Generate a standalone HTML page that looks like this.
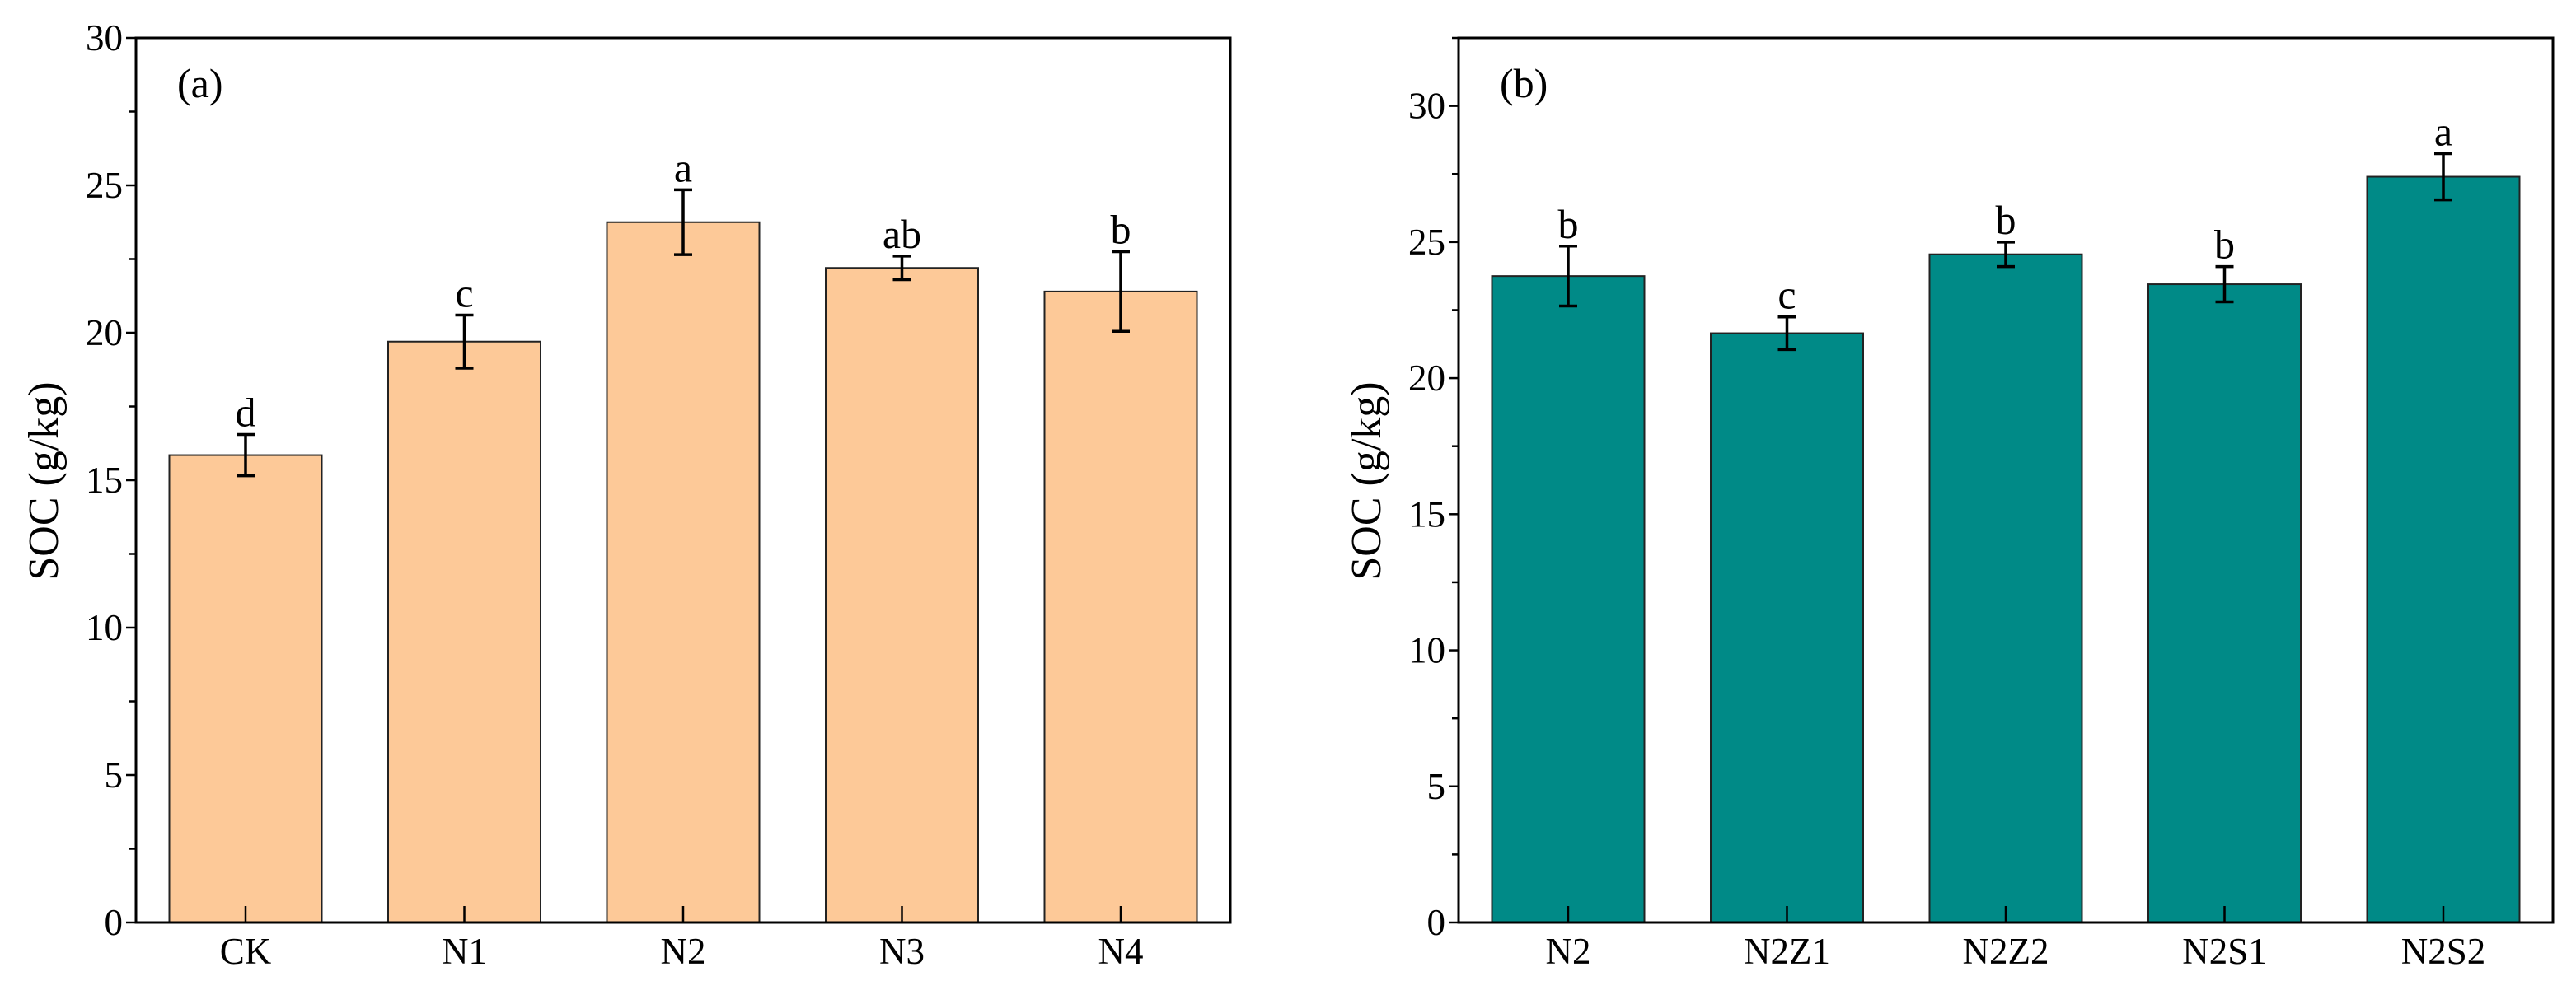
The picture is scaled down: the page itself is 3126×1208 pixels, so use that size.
<!DOCTYPE html>
<html><head><meta charset="utf-8"><style>
html,body{margin:0;padding:0;background:#fff;width:3126px;height:1208px;overflow:hidden}
svg text{font-family:"Liberation Serif",serif;fill:#000}
</style></head><body>
<svg id="chart" width="3126" height="1208" xmlns="http://www.w3.org/2000/svg"></svg>
<script>
const catsA = ["CK","N1","N2","N3","N4"];
const valsA = [15.85,19.7,23.75,22.2,21.4];
const errsA = [0.7,0.9,1.1,0.4,1.35];
const lettersA = ["d","c","a","ab","b"];
const ticksA = [0,5,10,15,20,25,30];
const catsB = ["N2","N2Z1","N2Z2","N2S1","N2S2"];
const valsB = [23.75,21.65,24.55,23.45,27.4];
const errsB = [1.1,0.6,0.45,0.65,0.85];
const lettersB = ["b","c","b","b","a"];
const ticksB = [0,5,10,15,20,25,30];

const NS="http://www.w3.org/2000/svg";
const svg=document.getElementById('chart');
function mk(tag,attrs,parent){const e=document.createElementNS(NS,tag);for(const k in attrs)e.setAttribute(k,attrs[k]);(parent||svg).appendChild(e);return e;}

function panel(cfg){
  const g=mk('g',{});
  
  
  const x0=cfg.x0,x1=cfg.x1,yTop=46,yBot=1120;
  const y=v=>yBot-(v/cfg.max)*(yBot-yTop);
  const step=265.5,bw=185,first=x0+133;
  cfg.cats.forEach((c,i)=>{
    const cx=first+i*step;
    const b=mk('rect',{x:cx-bw/2,y:y(cfg.vals[i]),width:bw,height:yBot-y(cfg.vals[i]),fill:cfg.color,stroke:'#222','stroke-width':2},g);
    
    
    const hi=y(cfg.vals[i]+cfg.errs[i]),lo=y(cfg.vals[i]-cfg.errs[i]);
    const eb=mk('path',{d:`M${cx},${hi}V${lo}M${cx-11},${hi}H${cx+11}M${cx-11},${lo}H${cx+11}`,stroke:'#000','stroke-width':3.5,fill:'none'},g);
    
    
    const lt=mk('text',{x:cx,y:hi-10,'text-anchor':'middle','font-size':50},g);
    lt.textContent=cfg.letters[i];
    
    
    mk('line',{x1:cx,x2:cx,y1:yBot,y2:yBot-20,stroke:'#000','stroke-width':2.5},g);
    const xl=mk('text',{x:cx,y:1170,'text-anchor':'middle','font-size':45},g);
    xl.textContent=c;
    
    
  });
  for(let v=0;v<=cfg.max+0.001;v+=2.5){
    const major=Math.abs(v%5)<0.001;
    mk('line',{x1:x0-(major?12:8),x2:x0,y1:y(v),y2:y(v),stroke:'#000','stroke-width':2.5},g);
  }
  cfg.ticks.forEach(t=>{
    const tl=mk('text',{x:x0-16,y:y(t)+15,'text-anchor':'end','font-size':45},g);
    tl.textContent=t;
    
    
  });
  const fr=mk('rect',{x:x0,y:yTop,width:x1-x0,height:yBot-yTop,fill:'none',stroke:'#000','stroke-width':3},g);
  
  
  const yt=mk('text',{x:0,y:0,'text-anchor':'middle','font-size':52,transform:`translate(${cfg.titleX},584) rotate(-90)`},g);
  yt.textContent='SOC (g/kg)';
  
  
  const pl=mk('text',{x:x0+50,y:118,'font-size':50},g);
  pl.textContent=cfg.label;
  
  
}
panel({name:'panel-a',x0:165,x1:1493,max:30,cats:catsA,vals:valsA,errs:errsA,letters:lettersA,ticks:ticksA,color:'#FDC998',titleX:70,label:'(a)'});
panel({name:'panel-b',x0:1770,x1:3098,max:32.5,cats:catsB,vals:valsB,errs:errsB,letters:lettersB,ticks:ticksB,color:'#008A87',titleX:1675,label:'(b)'});
</script>
</body></html>
